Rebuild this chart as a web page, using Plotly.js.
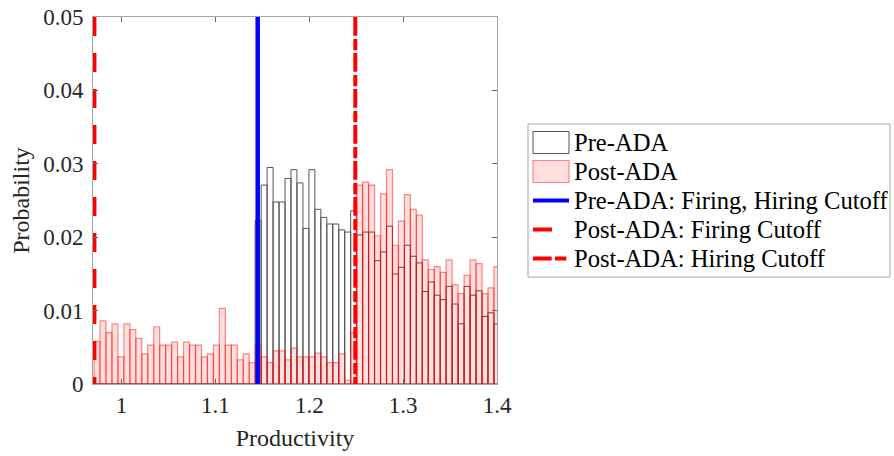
<!DOCTYPE html>
<html>
<head>
<meta charset="utf-8">
<script src="https://cdn.plot.ly/plotly-3.0.1.min.js"></script>
<style>html,body{margin:0;padding:0;background:#fff;}#chart{width:894px;height:456px;}</style>
</head>
<body>
<div id="chart"></div>
<script>
// ---- data ----
const binStart = 0.9706;
const binWidth = 0.00636;
const postADA = [
  0.0058, 0.0086, 0.0070, 0.0082, 0.0037, 0.0082, 0.0074, 0.0062, 0.0041, 0.0053,
  0.0078, 0.0053, 0.0053, 0.0057, 0.0037, 0.0057, 0.0053, 0.0053, 0.0037, 0.0041,
  0.0053, 0.0103, 0.0053, 0.0053, 0.0033, 0.0041, 0.0029,
  0.0053, 0.0037, 0.0029, 0.0045, 0.0045, 0.0033, 0.0049, 0.0037, 0.0037, 0.0037,
  0.0042, 0.0037, 0.0029, 0.0029, 0.0041, 0.0005, 0.0070,
  0.0271, 0.0275, 0.0271, 0.0202, 0.0259, 0.0292, 0.0189, 0.0222, 0.0258, 0.0238,
  0.0230, 0.0169, 0.0156, 0.0160, 0.0152, 0.0169, 0.0135, 0.0123, 0.0148, 0.0169,
  0.0164, 0.0123, 0.0131, 0.0160
];
const preADA = [
  0, 0, 0, 0, 0, 0, 0, 0, 0, 0,
  0, 0, 0, 0, 0, 0, 0, 0, 0, 0,
  0, 0, 0, 0, 0, 0, 0,
  0.0223, 0.0271, 0.0295, 0.0248, 0.0248, 0.0280, 0.0292, 0.0274, 0.0212, 0.0292,
  0.0238, 0.0227, 0.0218, 0.0218, 0.0210, 0.0207, 0.0236,
  0.0203, 0.0207, 0.0207, 0.0168, 0.0180, 0.0215, 0.0150, 0.0159, 0.0189, 0.0174,
  0.0165, 0.0126, 0.0139, 0.0121, 0.0115, 0.0133, 0.0109, 0.0082, 0.0133, 0.0121,
  0.0127, 0.0092, 0.0097, 0.0082
];
const preCutoff = 1.145;        // Pre-ADA: Firing, Hiring Cutoff
const postFiringCutoff = 0.971; // Post-ADA: Firing Cutoff
const postHiringCutoff = 1.249; // Post-ADA: Hiring Cutoff
const xTicks = [1, 1.1, 1.2, 1.3, 1.4];
const xTickText = ['1', '1.1', '1.2', '1.3', '1.4'];
const yTicks = [0, 0.01, 0.02, 0.03, 0.04, 0.05];
const yTickText = ['0', '0.01', '0.02', '0.03', '0.04', '0.05'];
const legendLabels = ['Pre-ADA', 'Post-ADA', 'Pre-ADA: Firing, Hiring Cutoff', 'Post-ADA: Firing Cutoff', 'Post-ADA: Hiring Cutoff'];

// ---- styles ----
const FONT = 'Liberation Serif, Times New Roman, serif';
const preEdge = '#555555';
const postFace = 'rgba(255,0,0,0.13)';
const postEdge = 'rgba(255,0,0,0.45)';
const blue = '#0000ff';
const red = '#ff0000';
const firingDash = '19px,17px';
const hiringDash = '18.7px,3.3px,11.3px,2.7px';

const centers = postADA.map((_, i) => binStart + binWidth * (i + 0.5));
const widths = postADA.map(() => binWidth);
const yMax = 0.05;

const traces = [
  {type: 'bar', x: centers, y: preADA, width: widths, name: legendLabels[0],
   marker: {color: 'rgba(255,255,255,0)', line: {color: preEdge, width: 1}}, showlegend: false, hoverinfo: 'x+y'},
  {type: 'bar', x: centers, y: postADA, width: widths, name: legendLabels[1],
   marker: {color: postFace, line: {color: postEdge, width: 1.2}}, showlegend: false, hoverinfo: 'x+y'},
  {type: 'scatter', mode: 'lines', x: [preCutoff, preCutoff], y: [0, yMax], name: legendLabels[2],
   line: {color: blue, width: 4.5}, showlegend: false},
  {type: 'scatter', mode: 'lines', x: [postFiringCutoff, postFiringCutoff], y: [yMax, 0], name: legendLabels[3],
   line: {color: red, width: 4, dash: firingDash}, showlegend: false},
  {type: 'scatter', mode: 'lines', x: [postHiringCutoff, postHiringCutoff], y: [yMax, 0], name: legendLabels[4],
   line: {color: red, width: 4, dash: hiringDash}, showlegend: false}
];

// ---- custom legend (paper coordinates from pixel layout) ----
const L = 93, R = 397, T = 17, B = 72, W = 894, H = 456;
const pw = W - L - R, ph = H - T - B;
const px = p => (p - L) / pw;
const py = p => (H - B - p) / ph;
const rowY = [142.5, 171.5, 200.5, 229.5, 258.5];
const swX0 = 533, swX1 = 569, textX = 572;
const shapes = [
  {type: 'rect', xref: 'paper', yref: 'paper', x0: px(528), x1: px(890), y0: py(277), y1: py(124),
   line: {color: '#a6a6a6', width: 1}, fillcolor: '#ffffff', layer: 'above'},
  {type: 'rect', xref: 'paper', yref: 'paper', x0: px(swX0), x1: px(swX1), y0: py(rowY[0] + 11), y1: py(rowY[0] - 11),
   line: {color: preEdge, width: 1}, fillcolor: 'rgba(255,255,255,0)', layer: 'above'},
  {type: 'rect', xref: 'paper', yref: 'paper', x0: px(swX0), x1: px(swX1), y0: py(rowY[1] + 11), y1: py(rowY[1] - 11),
   line: {color: postEdge, width: 1.2}, fillcolor: postFace, layer: 'above'},
  {type: 'line', xref: 'paper', yref: 'paper', x0: px(swX0), x1: px(swX1), y0: py(rowY[2]), y1: py(rowY[2]),
   line: {color: blue, width: 4}, layer: 'above'},
  {type: 'line', xref: 'paper', yref: 'paper', x0: px(swX0), x1: px(swX1), y0: py(rowY[3]), y1: py(rowY[3]),
   line: {color: red, width: 4, dash: firingDash}, layer: 'above'},
  {type: 'line', xref: 'paper', yref: 'paper', x0: px(swX0), x1: px(swX1), y0: py(rowY[4]), y1: py(rowY[4]),
   line: {color: red, width: 4, dash: hiringDash}, layer: 'above'}
];
const annotations = legendLabels.map((t, i) => ({
  xref: 'paper', yref: 'paper', x: px(textX), y: py(rowY[i]), xanchor: 'left', yanchor: 'middle',
  text: t, showarrow: false, font: {family: FONT, size: 24.6, color: '#000'}
}));

const axisCommon = {
  showline: true, mirror: 'ticks', linecolor: '#a6a6a6', linewidth: 1,
  ticks: 'inside', ticklen: 5, tickcolor: '#666', tickwidth: 1,
  showgrid: false, zeroline: false, tickmode: 'array',
  tickfont: {family: FONT, size: 23, color: '#262626'}
};

const layout = {
  width: W, height: H,
  margin: {l: L, r: R, t: T, b: B, pad: 0},
  paper_bgcolor: '#ffffff', plot_bgcolor: '#ffffff',
  barmode: 'overlay', bargap: 0,
  showlegend: false,
  xaxis: Object.assign({}, axisCommon, {range: [0.9695, 1.4], tickvals: xTicks, ticktext: xTickText,
    title: {text: 'Productivity', font: {family: FONT, size: 24, color: '#262626'}, standoff: 12}}),
  yaxis: Object.assign({}, axisCommon, {range: [0, 0.05], tickvals: yTicks, ticktext: yTickText,
    ticklabelstandoff: 4,
    title: {text: 'Probability', font: {family: FONT, size: 24, color: '#262626'}, standoff: 6}}),
  shapes: shapes,
  annotations: annotations
};

Plotly.newPlot('chart', traces, layout, {displayModeBar: false, staticPlot: true});
</script>
</body>
</html>
